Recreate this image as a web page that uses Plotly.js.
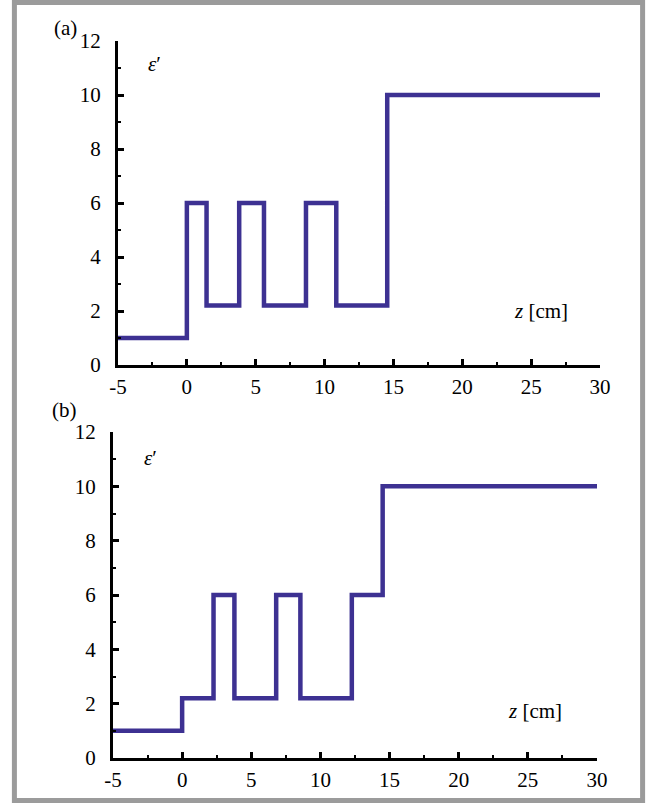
<!DOCTYPE html>
<html>
<head>
<meta charset="utf-8">
<script src="https://cdn.plot.ly/plotly-3.0.1.min.js"></script>
<style>
html,body{margin:0;padding:0;background:#fff;}
#chart{width:654px;height:805px;}
</style>
</head>
<body>
<div id="chart"></div>
<script>
// Data
const zA = [-5, 0, 1.43, 3.8, 5.6, 8.65, 10.85, 14.55, 30];
const epsA = [1, 6, 2.2, 6, 2.2, 6, 2.2, 10, 10];
const zB = [-5, 0, 2.27, 3.78, 6.8, 8.55, 12.27, 14.5, 30];
const epsB = [1, 2.2, 6, 2.2, 6, 2.2, 6, 10, 10];
const xTickVals = [-5, 0, 5, 10, 15, 20, 25, 30];
const yTickVals = [0, 2, 4, 6, 8, 10, 12];

const W = 654, H = 805;
const px = v => v / W;
const py = v => 1 - v / H;

const lineColor = '#3d3192';
const font = {family: 'Times New Roman, Liberation Serif, serif', size: 21, color: '#000'};

const traces = [
  {x: zA, y: epsA, type: 'scatter', mode: 'lines', line: {shape: 'hv', color: lineColor, width: 4.5}, xaxis: 'x', yaxis: 'y', hoverinfo: 'skip'},
  {x: zB, y: epsB, type: 'scatter', mode: 'lines', line: {shape: 'hv', color: lineColor, width: 4.5}, xaxis: 'x2', yaxis: 'y2', hoverinfo: 'skip'}
];

function xAx(domain, anchor) {
  return {
    domain: domain, anchor: anchor, range: [-5, 30], autorange: false,
    tickvals: xTickVals, ticktext: xTickVals.map(String),
    showline: true, linewidth: 3, linecolor: '#000',
    ticks: 'inside', ticklen: 6, tickwidth: 3, tickcolor: '#000',
    minor: {ticks: 'inside', dtick: 2.5, tick0: -5, ticklen: 3, tickwidth: 2, tickcolor: '#000'},
    showgrid: false, zeroline: false, tickfont: font, ticklabelstandoff: 1
  };
}
function yAx(domain, anchor) {
  return {
    domain: domain, anchor: anchor, range: [0, 12], autorange: false,
    tickvals: yTickVals, ticktext: yTickVals.map(String),
    showline: true, linewidth: 3, linecolor: '#000',
    ticks: 'inside', ticklen: 6, tickwidth: 3, tickcolor: '#000',
    minor: {ticks: 'inside', dtick: 1, tick0: 0, ticklen: 3, tickwidth: 2, tickcolor: '#000'},
    showgrid: false, zeroline: false, tickfont: font, ticklabelstandoff: 10
  };
}

const ann = (text, x, y) => ({
  text: text, x: px(x), y: py(y), xref: 'paper', yref: 'paper',
  xanchor: 'center', yanchor: 'middle', showarrow: false, font: font
});

const layout = {
  width: W, height: H,
  margin: {l: 0, r: 0, t: 0, b: 0},
  paper_bgcolor: '#fff', plot_bgcolor: 'rgba(0,0,0,0)',
  showlegend: false,
  xaxis: xAx([px(118), px(600)], 'y'),
  yaxis: yAx([py(365), py(41)], 'x'),
  xaxis2: xAx([px(113), px(597)], 'y2'),
  yaxis2: yAx([py(758), py(432)], 'x2'),
  shapes: [
    {type: 'rect', xref: 'paper', yref: 'paper', layer: 'below',
     x0: px(14.4), x1: px(642.6), y0: py(2.6), y1: py(800.4),
     line: {color: '#9b9b9b', width: 5}, fillcolor: 'rgba(0,0,0,0)'}
  ],
  annotations: [
    ann('(a)', 65, 28),
    ann('(b)', 64, 410),
    ann('<i>ε</i>′', 154, 64),
    ann('<i>ε</i>′', 150, 458),
    ann('<i>z</i> [cm]', 541, 311),
    ann('<i>z</i> [cm]', 535, 711)
  ]
};

Plotly.newPlot('chart', traces, layout, {staticPlot: true, displayModeBar: false});
</script>
</body>
</html>
